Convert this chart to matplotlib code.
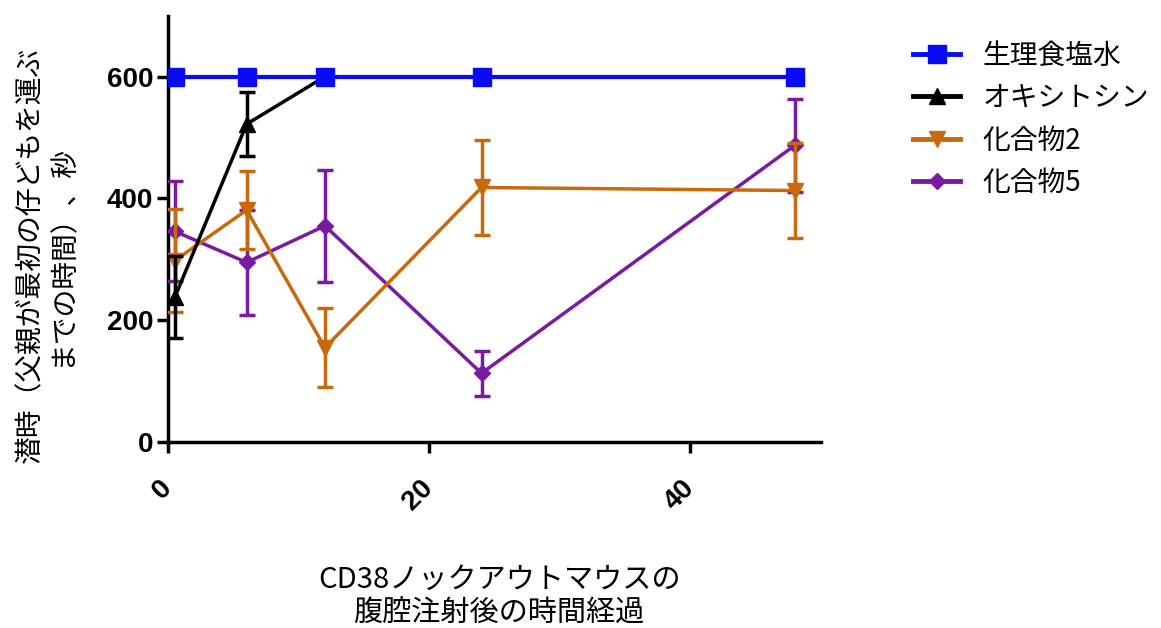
import matplotlib.pyplot as plt

plt.rcParams["font.family"] = ["Noto Sans CJK JP", "DejaVu Sans"]

# hours after injection
hours = [0.5, 6, 12, 24, 48]
hours_oxytocin = [0.5, 6, 12]

saline = [600, 600, 600, 600, 600]
oxytocin = [238, 522, 600]
oxytocin_err = [67, 52, 0]
compound2 = [298, 381, 155, 418, 413]
compound2_err = [85, 64, 65, 78, 78]
compound5 = [346, 295, 355, 113, 487]
compound5_err = [82, 86, 92, 37, 77]

labels = ["生理食塩水", "オキシトシン", "化合物2", "化合物5"]
y_ticks = [0, 200, 400, 600]
x_ticks = [0, 20, 40]

blue = "#0a0af5"
orange = "#c8690e"
purple = "#7a1aa0"

fig = plt.figure(figsize=(11.61, 6.28), dpi=100)
ax = fig.add_axes([0.145, 0.296, 0.562, 0.679])

c5 = ax.errorbar(
    hours, compound5, yerr=compound5_err, color=purple, marker="D",
    markersize=8, lw=2.5, capsize=6, capthick=2.5, elinewidth=2.5, zorder=3,
)
c2 = ax.errorbar(
    hours, compound2, yerr=compound2_err, color=orange, marker="v",
    markersize=12, lw=2.5, capsize=6, capthick=2.5, elinewidth=2.5, zorder=4,
)
ox = ax.errorbar(
    hours_oxytocin, oxytocin, yerr=oxytocin_err, color="black", marker="^",
    markersize=11, lw=2.5, capsize=6, capthick=2.5, elinewidth=2.5, zorder=5,
)
sal, = ax.plot(
    hours, saline, color=blue, marker="s", markersize=13, lw=3, zorder=6,
)

ax.set_xlim(0, 50)
ax.set_ylim(0, 700)
ax.set_xticks(x_ticks)
ax.set_yticks(y_ticks)
ax.set_xticklabels([str(t) for t in x_ticks], rotation=45, ha="right",
                   va="center", rotation_mode="anchor")

for side in ["top", "right"]:
    ax.spines[side].set_visible(False)
for side in ["left", "bottom"]:
    ax.spines[side].set_linewidth(2.5)

ax.tick_params(axis="both", direction="out", length=8, width=2.5)
ax.tick_params(axis="x", pad=22)
ax.tick_params(axis="y", pad=3)
for lab in ax.get_xticklabels() + ax.get_yticklabels():
    lab.set_family("Liberation Sans")
    lab.set_fontweight("bold")
    lab.set_fontsize(20)

fig.text(
    0.04, 0.594, "潜時（父親が最初の仔どもを運ぶ\nまでの時間）、秒",
    rotation=90, ha="center", va="center", multialignment="center",
    fontsize=20, linespacing=1.1,
)
fig.text(
    0.43, 0.05, "CD38ノックアウトマウスの\n腹腔注射後の時間経過",
    ha="center", va="center", multialignment="center",
    fontsize=21, linespacing=1.15,
)

leg = fig.legend(
    [sal, ox[0], c2[0], c5[0]], labels,
    loc="upper left", bbox_to_anchor=(0.765, 0.975), frameon=False,
    fontsize=20, handlelength=1.7, handletextpad=0.8, labelspacing=0.45,
)
for line in leg.get_lines():
    line.set_linewidth(3.5)

plt.savefig("out.png", dpi=100)
plt.close()
